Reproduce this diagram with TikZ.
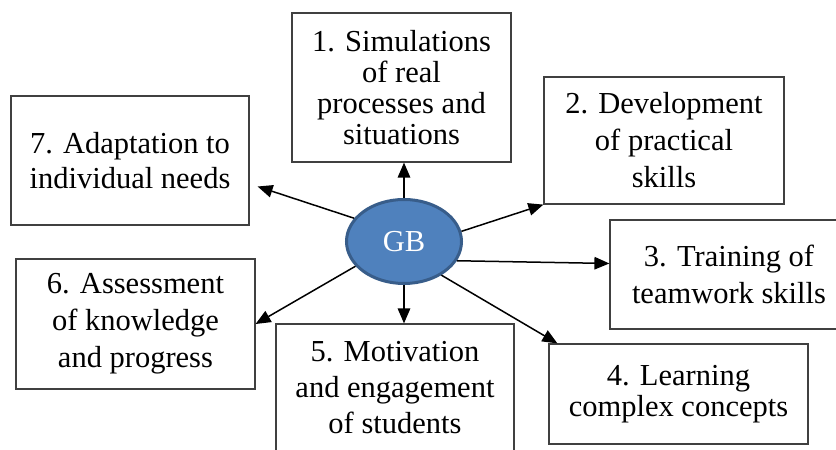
\documentclass[tikz,border=0pt]{standalone}
\usepackage{fontspec}
\setmainfont{Liberation Serif}
\usetikzlibrary{arrows.meta,calc,shapes.geometric}
\definecolor{gbfill}{HTML}{4F81BD}
\definecolor{gbdraw}{HTML}{385D8A}
\definecolor{boxgray}{HTML}{404040}
\begin{document}
\begin{tikzpicture}[x=1pt,y=1pt,
  box/.style={draw=boxgray, line width=1.2pt, rectangle, inner sep=0pt, align=center},
  conn/.style={-{Triangle[length=15pt,width=12.5pt]}, line width=1.5pt, black},
  gbnode/.style={ellipse, draw=gbdraw, line width=3pt, fill=gbfill, inner sep=0pt,
    minimum width=115pt, minimum height=84pt, text=white, font=\fontsize{30.5}{31}\selectfont}
]
\useasboundingbox (0,0) rectangle (836,450);
\fill[white] (0,0) rectangle (836,450);

\node[box, minimum width=219pt, minimum height=149pt, font=\fontsize{30.5}{31}\selectfont] (box1) at (401.5,362.5)
  {1. Simulations\\of real\\processes and\\situations};
\node[box, minimum width=240pt, minimum height=127pt, font=\fontsize{30.5}{37}\selectfont] (box2) at (664,309.5)
  {2. Development\\of practical\\skills};
\node[box, minimum width=238pt, minimum height=129pt, font=\fontsize{30.5}{35}\selectfont] (box7) at (130,289.5)
  {7. Adaptation to\\individual needs};
\node[box, minimum width=238pt, minimum height=109pt, font=\fontsize{30.5}{37}\selectfont] (box3) at (729,175.5)
  {3. Training of\\teamwork skills};
\node[box, minimum width=239pt, minimum height=130pt, font=\fontsize{30.5}{37}\selectfont] (box6) at (135.5,126)
  {6. Assessment\\of knowledge\\and progress};
\node[box, minimum width=238pt, minimum height=128pt, font=\fontsize{30.5}{36}\selectfont] (box5) at (395,62)
  {5. Motivation\\and engagement\\of students};
\node[box, minimum width=259pt, minimum height=100pt, font=\fontsize{30.5}{31}\selectfont] (box4) at (678.5,56)
  {4. Learning\\complex concepts};

\node[gbnode] (gb) at (404,208.5) {GB};

\draw[conn] (gb.north) -- (gb.north |- box1.south);
\draw[conn] (gb.10) -- (box2.south west);
\draw[conn] (gb.-20) -- ($(box3.north west)!0.4!(box3.south west)$);
\draw[conn] (gb.-42) -- ($(box4.north west)+(9,0)$);
\draw[conn] (gb.south) -- (gb.south |- box5.north);
\draw[conn] (gb.207) -- (box6.east);
\draw[conn] (gb.155) -- ($(box7.east)+(8,-26)$);
\end{tikzpicture}
\end{document}
